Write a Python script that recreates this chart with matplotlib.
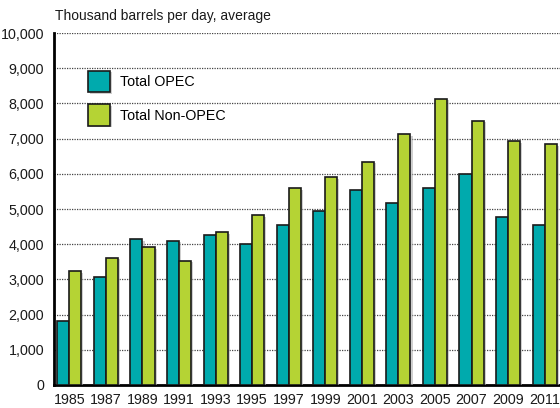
import matplotlib.pyplot as plt
import matplotlib.patheffects as pe
import numpy as np

plt.rcParams['font.family'] = ['Liberation Sans', 'DejaVu Sans']

years = ['1985', '1987', '1989', '1991', '1993', '1995', '1997',
         '1999', '2001', '2003', '2005', '2007', '2009', '2011']
opec = [1830, 3060, 4140, 4090, 4270, 4000, 4560,
        4950, 5530, 5160, 5590, 5990, 4780, 4540]
non_opec = [3230, 3620, 3910, 3530, 4340, 4820, 5590,
            5900, 6350, 7120, 8130, 7500, 6920, 6840]

fig = plt.figure(figsize=(5.6, 4.08), dpi=100)
ax = fig.add_axes([0.0964, 0.0564, 0.9036, 0.8626])

x = np.arange(len(years))
w = 0.33
shadow = [pe.SimplePatchShadow(offset=(1.5, -1), shadow_rgbFace='#b0b0b0', alpha=0.6), pe.Normal()]
b1 = ax.bar(x - w / 2, opec, w, color='#00aaad', edgecolor='#1a1a1a', linewidth=1.2,
            label='Total OPEC', zorder=3)
b2 = ax.bar(x + w / 2, non_opec, w, color='#b5d334', edgecolor='#1a1a1a', linewidth=1.2,
            label='Total Non-OPEC', zorder=3)
for b in list(b1) + list(b2):
    b.set_path_effects(shadow)

ax.set_xlim(-0.42, 13.42)
ax.set_ylim(0, 10000)
ax.set_yticks(range(0, 10001, 1000))
ax.set_yticklabels([f'{v:,}' for v in range(0, 10001, 1000)])
ax.set_xticks(x)
ax.set_xticklabels(years)
ax.tick_params(axis='both', length=0, labelsize=10.3, colors='#1a1a1a')
ax.tick_params(axis='y', pad=7)
ax.tick_params(axis='x', pad=6)

ax.grid(axis='y', linestyle=(0, (1, 1)), color='#444444', linewidth=0.9, zorder=0)
ax.set_axisbelow(True)
for s in ['top', 'right']:
    ax.spines[s].set_visible(False)
ax.spines['left'].set_linewidth(2)
ax.spines['bottom'].set_linewidth(2)

ax.legend(loc='upper left', bbox_to_anchor=(0.042, 0.93), frameon=False, fontsize=10.3,
          handlelength=1.55, handleheight=1.95, labelspacing=0.84, handletextpad=0.7)

fig.text(0.098, 0.962, 'Thousand barrels per day, average', fontsize=10,
         va='center', ha='left', color='#1a1a1a')

fig.savefig('out.png', dpi=100)
